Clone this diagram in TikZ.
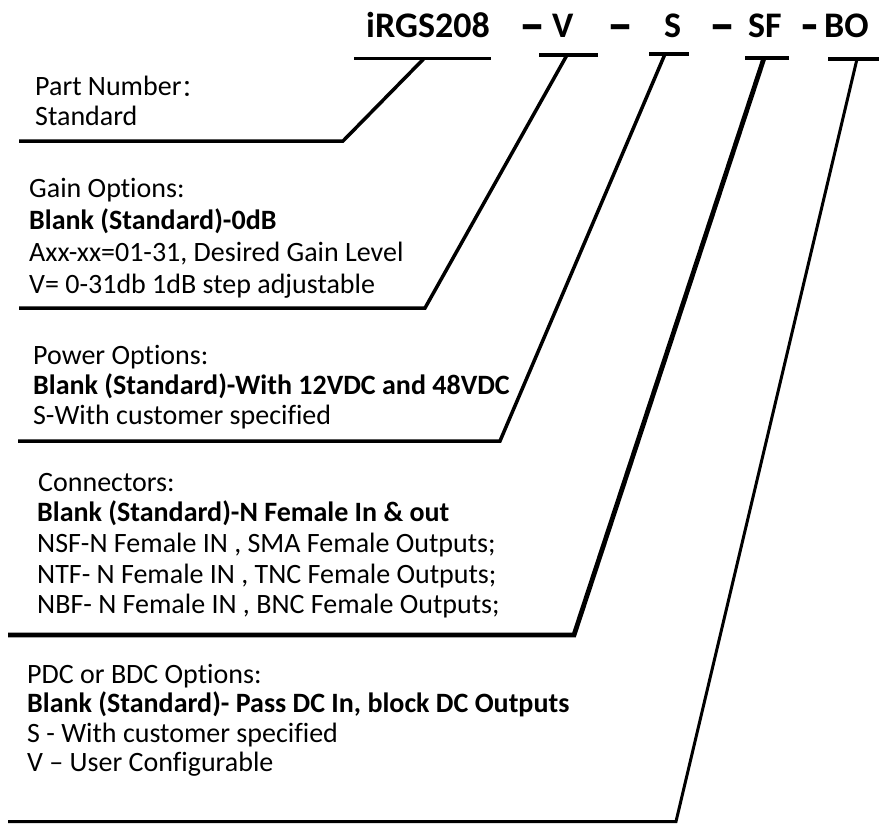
\documentclass[tikz,border=0pt]{standalone}
\usepackage{fontspec}
\setmainfont{Carlito}[Ligatures=NoCommon]
\newfontfamily\cjk{Noto Sans CJK SC}
\newcommand{\bigdash}{\scalebox{1.45}[1.6]{\raisebox{-4.3pt}{–}}}
\begin{document}
\begin{tikzpicture}[x=1pt,y=-1pt,
  txt/.style={anchor=base west,inner sep=0pt,font=\fontsize{28}{30}\selectfont},
  btxt/.style={txt,font=\fontsize{28}{30}\selectfont\bfseries},
  ttl/.style={anchor=base west,inner sep=0pt,font=\fontsize{36}{40}\selectfont\bfseries},
  lead/.style={line width=3.5pt,line join=miter,line cap=butt}]
\useasboundingbox (0,0) rectangle (879,823);
% title
\node[ttl] (t1) at (366,37) {iRGS208};
\node[ttl] (t2) at (519,37) {\bigdash};
\node[ttl] (t3) at (552,37) {V};
\node[ttl] (t4) at (607,37) {\bigdash};
\node[ttl] (t5) at (664,37) {S};
\node[ttl] (t6) at (709,37) {\bigdash};
\node[ttl] (t7) at (748,37) {SF};
\node[ttl] (t8) at (800,37) {\scalebox{1.05}[1.6]{\raisebox{-4.3pt}{–}}};
\node[ttl] (t9) at (824,37) {BO};
% part number
\node[txt] (p1) at (35,95) {Part Number\raisebox{-1pt}{\scalebox{0.85}{\cjk ：}}};
\node[txt] (p2) at (35,125) {Standard};
% gain
\node[txt] (g1) at (29,197) {Gain Options:};
\node[btxt] (g2) at (29,229) {Blank (Standard)-0dB};
\node[txt] (g3) at (29,261) {Axx-xx=01-31, Desired Gain Level};
\node[txt] (g4) at (29,293) {V= 0-31db 1dB step adjustable};
% power
\node[txt] (w1) at (33,364) {Power Options:};
\node[btxt] (w2) at (33,394) {Blank (Standard)-With 12VDC and 48VDC};
\node[txt] (w3) at (33,424) {S-With customer specified};
% connectors
\node[txt] (c1) at (38,491) {Connectors:};
\node[btxt] (c2) at (37,521) {Blank (Standard)-N Female In \& out};
\node[txt] (c3) at (37,552) {NSF-N Female IN , SMA Female Outputs;};
\node[txt] (c4) at (37,583) {NTF- N Female IN , TNC Female Outputs;};
\node[txt] (c5) at (37,613) {NBF- N Female IN , BNC Female Outputs;};
% pdc
\node[txt] (d1) at (27,683) {PDC or BDC Options:};
\node[btxt] (d2) at (27,712) {Blank (Standard)- Pass DC In, block DC Outputs};
\node[txt] (d3) at (27,742) {S - With customer specified};
\node[txt] (d4) at (27,771) {V – User Configurable};
% leader coordinates
\coordinate (u1a) at (354,58.5); \coordinate (u1b) at (491,58.5); \coordinate (k1) at (424,58.5);
\coordinate (b1a) at (19,141);  \coordinate (b1b) at (343,141);
\coordinate (u2a) at (539,55);  \coordinate (u2b) at (598,55);  \coordinate (k2) at (567,55);
\coordinate (b2a) at (19,308);  \coordinate (b2b) at (425,308);
\coordinate (u3a) at (649,54);  \coordinate (u3b) at (689,54);  \coordinate (k3) at (665,54);
\coordinate (b3a) at (18,441);  \coordinate (b3b) at (500,441);
\coordinate (u4a) at (745,58);  \coordinate (u4b) at (789,58);  \coordinate (k4) at (764,58);
\coordinate (b4a) at (8,635);   \coordinate (b4b) at (574,635);
\coordinate (u5a) at (828,59);  \coordinate (u5b) at (882,59);  \coordinate (k5) at (857,59);
\coordinate (b5a) at (8,821.5); \coordinate (b5b) at (676,821.5);
% leaders
\draw[lead] (u1a) -- (u1b); \draw[lead] (b1a) -- (b1b) -- (k1);
\draw[lead] (u2a) -- (u2b); \draw[lead] (b2a) -- (b2b) -- (k2);
\draw[lead] (u3a) -- (u3b); \draw[lead] (b3a) -- (b3b) -- (k3);
\draw[lead] (u4a) -- (u4b); \draw[lead,line width=4.8pt] (b4a) -- (b4b) -- (k4);
\draw[lead] (u5a) -- (u5b); \draw[lead,line width=3pt] (b5a) -- (b5b) -- (k5);
\end{tikzpicture}
\end{document}
